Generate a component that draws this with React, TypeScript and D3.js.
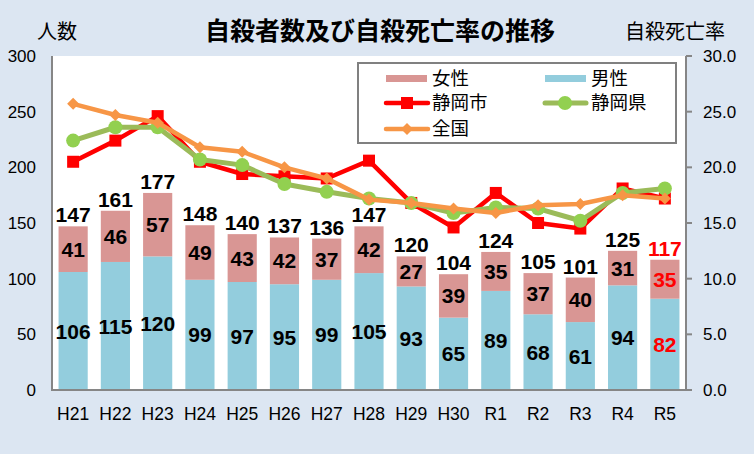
import * as d3 from 'd3';

const categories = ['H21', 'H22', 'H23', 'H24', 'H25', 'H26', 'H27', 'H28', 'H29', 'H30', 'R1', 'R2', 'R3', 'R4', 'R5'];
const male = [106, 115, 120, 99, 97, 95, 99, 105, 93, 65, 89, 68, 61, 94, 82];
const female = [41, 46, 57, 49, 43, 42, 37, 42, 27, 39, 35, 37, 40, 31, 35];
const cityRate = [20.5, 22.4, 24.6, 20.5, 19.4, 19.2, 19.0, 20.6, 16.8, 14.6, 17.7, 15.0, 14.5, 18.1, 17.2];
const prefRate = [22.4, 23.6, 23.6, 20.7, 20.2, 18.5, 17.8, 17.2, 16.8, 15.9, 16.4, 16.3, 15.2, 17.7, 18.1];
const nationRate = [25.7, 24.7, 24.0, 21.8, 21.4, 20.0, 19.0, 17.1, 16.8, 16.3, 15.9, 16.6, 16.7, 17.5, 17.2];
const leftTicks = [0, 50, 100, 150, 200, 250, 300];
const rightTicks = [0, 5, 10, 15, 20, 25, 30];

const W = 754;
const H = 454;
const PLOT = { left: 52, right: 686, top: 56, bottom: 390 };

const C = {
  bg: '#dce6f2',
  female: '#d99694',
  male: '#93cddd',
  city: '#ff0000',
  prefLine: '#9bbb59',
  prefDot: '#92d050',
  nation: '#f79646',
  axis: '#868686',
};

const JP = "'Noto Sans CJK JP', sans-serif";
const NUM = "'Liberation Sans', Arial, sans-serif";

export default function App() {
  const x = d3.scaleBand<string>()
    .domain(categories)
    .range([PLOT.left, PLOT.right])
    .paddingInner(0.31)
    .paddingOuter(0.155);
  const yL = d3.scaleLinear().domain([0, 300]).range([PLOT.bottom, PLOT.top]);
  const yR = d3.scaleLinear().domain([0, 30]).range([PLOT.bottom, PLOT.top]);
  const bw = x.bandwidth();
  const cx = (c: string) => (x(c) as number) + bw / 2;

  const line = d3.line<number>()
    .x((_, i) => cx(categories[i]))
    .y((d) => yR(d));

  const lastIdx = categories.length - 1;
  const labelColor = (i: number) => (i === lastIdx ? '#ff0000' : '#000');

  return (
    <div style={{ position: 'absolute', left: 0, top: 0 }}>
      <svg width={W} height={H} style={{ display: 'block' }}>
        <rect width={W} height={H} fill={C.bg} />
        <rect x={PLOT.left} y={PLOT.top} width={PLOT.right - PLOT.left} height={PLOT.bottom - PLOT.top} fill="#fff" />

        {/* titles */}
        <text x={380} y={40} textAnchor="middle" fontFamily={JP} fontWeight="bold" fontSize={25}>自殺者数及び自殺死亡率の推移</text>
        <text x={57} y={39} textAnchor="middle" fontFamily={JP} fontSize={20}>人数</text>
        <text x={675} y={39} textAnchor="middle" fontFamily={JP} fontSize={20}>自殺死亡率</text>

        {/* bars */}
        {categories.map((c, i) => (
          <g key={c}>
            <rect x={x(c)} y={yL(male[i])} width={bw} height={yL(0) - yL(male[i])} fill={C.male} />
            <rect x={x(c)} y={yL(male[i] + female[i])} width={bw} height={yL(0) - yL(female[i])} fill={C.female} />
          </g>
        ))}

        {/* axes */}
        <line x1={PLOT.left} x2={PLOT.left} y1={PLOT.top} y2={PLOT.bottom} stroke={C.axis} strokeWidth={2} />
        <line x1={PLOT.right} x2={PLOT.right} y1={PLOT.top} y2={PLOT.bottom} stroke={C.axis} strokeWidth={2} />
        <line x1={PLOT.left - 1} x2={PLOT.right + 6} y1={PLOT.bottom} y2={PLOT.bottom} stroke={C.axis} strokeWidth={2} />
        {rightTicks.map((t) => (
          <g key={t}>
            <line x1={PLOT.right} x2={PLOT.right + 6} y1={yR(t)} y2={yR(t)} stroke={C.axis} strokeWidth={2} />
            <text x={703} y={yR(t)} dy="0.35em" fontFamily={NUM} fontSize={17}>{t.toFixed(1)}</text>
          </g>
        ))}
        {leftTicks.map((t) => (
          <text key={t} x={36} y={yL(t)} dy="0.35em" textAnchor="end" fontFamily={NUM} fontSize={17}>{t}</text>
        ))}
        {categories.map((c) => (
          <text key={c} x={cx(c)} y={420} textAnchor="middle" fontFamily={NUM} fontSize={17.5}>{c}</text>
        ))}

        {/* lines */}
        <path d={line(cityRate) as string} fill="none" stroke={C.city} strokeWidth={4.5} strokeLinejoin="round" />
        {cityRate.map((v, i) => (
          <rect key={i} x={cx(categories[i]) - 6} y={yR(v) - 6} width={12} height={12} fill={C.city} />
        ))}
        <path d={line(prefRate) as string} fill="none" stroke={C.prefLine} strokeWidth={5} strokeLinejoin="round" />
        {prefRate.map((v, i) => (
          <circle key={i} cx={cx(categories[i])} cy={yR(v)} r={7} fill={C.prefDot} />
        ))}
        <path d={line(nationRate) as string} fill="none" stroke={C.nation} strokeWidth={4.5} strokeLinejoin="round" />
        {nationRate.map((v, i) => {
          const px = cx(categories[i]);
          const py = yR(v);
          return <path key={i} d={`M${px},${py - 6}L${px + 6},${py}L${px},${py + 6}L${px - 6},${py}Z`} fill={C.nation} />;
        })}

        {/* data labels */}
        {categories.map((c, i) => (
          <g key={c} fontFamily={NUM} fontWeight="bold" fontSize={21} textAnchor="middle" fill={labelColor(i)}>
            <text x={cx(c)} y={yL(male[i] / 2)} dy="0.36em">{male[i]}</text>
            <text x={cx(c)} y={yL(male[i] + female[i] / 2)} dy="0.36em">{female[i]}</text>
            <text x={cx(c)} y={yL(male[i] + female[i]) - 4}>{male[i] + female[i]}</text>
          </g>
        ))}

        {/* legend */}
        <rect x={358} y={63} width={318} height={80} fill="#fff" stroke="#808080" strokeWidth={2} />
        <g fontFamily={JP} fontSize={18.5}>
          <rect x={386} y={75} width={41} height={7} fill={C.female} />
          <text x={432} y={78} dy="0.36em">女性</text>
          <rect x={545} y={75} width={41} height={7} fill={C.male} />
          <text x={591} y={78} dy="0.36em">男性</text>

          <line x1={386} x2={428} y1={103} y2={103} stroke={C.city} strokeWidth={4.5} strokeLinecap="round" />
          <rect x={401} y={97} width={12} height={12} fill={C.city} />
          <text x={432} y={102} dy="0.36em">静岡市</text>

          <line x1={545} x2={586} y1={103} y2={103} stroke={C.prefLine} strokeWidth={5} strokeLinecap="round" />
          <circle cx={565} cy={103} r={7} fill={C.prefDot} />
          <text x={591} y={102} dy="0.36em">静岡県</text>

          <line x1={386} x2={428} y1={129} y2={129} stroke={C.nation} strokeWidth={4.5} strokeLinecap="round" />
          <path d="M407,123L413,129L407,135L401,129Z" fill={C.nation} />
          <text x={432} y={128} dy="0.36em">全国</text>
        </g>
      </svg>
    </div>
  );
}
